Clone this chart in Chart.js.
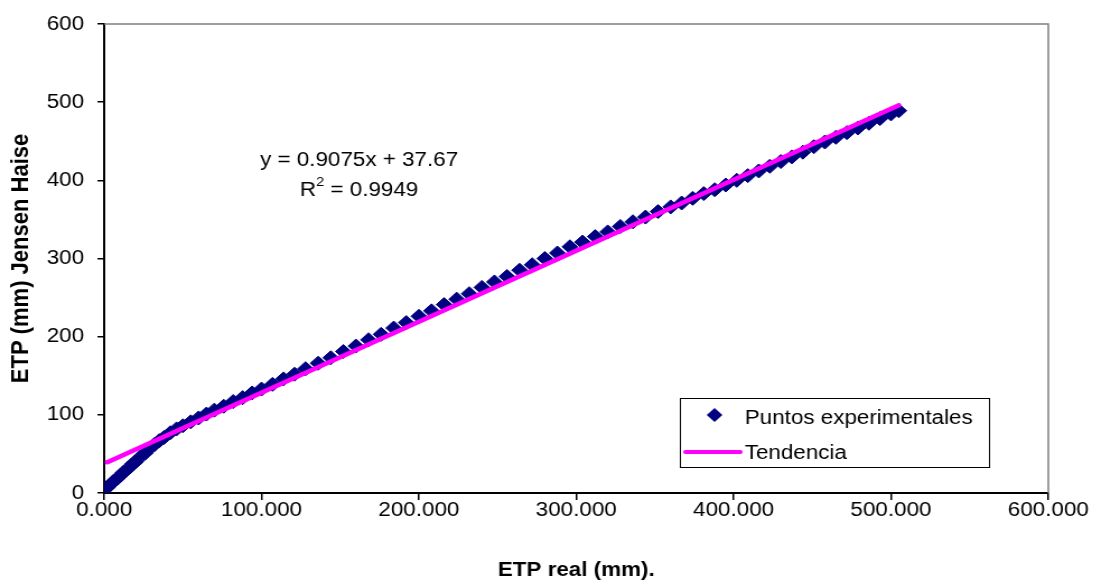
<!DOCTYPE html>
<html>
<head>
<meta charset="utf-8">
<script src="https://cdn.jsdelivr.net/npm/chart.js@4.4.1/dist/chart.umd.min.js"></script>
<style>
  html, body { margin: 0; padding: 0; background: #fff; }
  #wrap { width: 1094px; height: 582px; overflow: hidden; }
  /* the sheet was exported with wide glyphs, so the canvas is stretched sideways */
  #chart { transform: scaleX(1.12); transform-origin: 0 0; }
</style>
</head>
<body>
<div id="wrap"><canvas id="chart" width="977" height="582"></canvas></div>
<script>
// ETP real (mm) vs ETP Jensen-Haise (mm), accumulated
const etpReal = [
  2, 4, 6, 8, 10, 12, 14, 16, 18, 20, 23, 26, 29, 32, 35, 38, 42, 46, 50, 55,
  60, 65, 70, 76, 82, 88, 94, 100, 107, 114, 121, 128, 136, 144, 152, 160, 168, 176, 184, 192,
  200, 208, 216, 224, 232, 240, 248, 256, 264, 272, 280, 288, 296, 304, 312, 320, 328, 336, 344, 352,
  360, 367, 374, 381, 388, 395, 402, 409, 416, 423, 430, 437, 444, 451, 458, 465, 472, 479, 486, 493,
  500, 505
];
const etpJensen = [
  7, 11, 15, 18, 22, 26, 29, 33, 37, 40, 46, 51, 57, 62, 67, 71, 77, 82, 86, 91,
  96, 101, 106, 111, 117, 122, 128, 133, 139, 146, 152, 159, 166, 173, 181, 188, 196, 203, 211, 218,
  226, 233, 241, 248, 255, 263, 270, 277, 285, 292, 300, 307, 315, 321, 328, 334, 341, 347, 353, 360,
  366, 371, 377, 383, 388, 394, 400, 406, 412, 418, 424, 430, 436, 443, 449, 455, 461, 467, 473, 479,
  485, 489
];

// linear fit reported on the sheet
const trendSlope = 0.9075;
const trendIntercept = 37.67;
const trendR2 = 0.9949;

const xTickValues = [0, 100, 200, 300, 400, 500, 600];
const xTickLabels = ['0.000', '100.000', '200.000', '300.000', '400.000', '500.000', '600.000'];
const yTickValues = [0, 100, 200, 300, 400, 500, 600];

const seriesNames = ['Puntos experimentales', 'Tendencia'];

const NAVY = '#000080';
const MAGENTA = '#FF00FF';
const FONT = 'Liberation Sans, Arial, sans-serif';

const points = etpReal.map((x, i) => ({ x: x, y: etpJensen[i] }));
const xMin = Math.min(...etpReal);
const xMax = Math.max(...etpReal);
const trendPoints = [
  { x: xMin, y: trendSlope * xMin + trendIntercept },
  { x: xMax, y: trendSlope * xMax + trendIntercept }
];

const whiteBg = {
  id: 'whiteBg',
  beforeDraw(chart) {
    const ctx = chart.ctx;
    ctx.save();
    ctx.fillStyle = '#fff';
    ctx.fillRect(0, 0, chart.width, chart.height);
    ctx.restore();
  }
};

// grey plot-area frame on top and right
const plotFrame = {
  id: 'plotFrame',
  beforeDatasetsDraw(chart) {
    const { ctx, chartArea: a } = chart;
    ctx.save();
    ctx.strokeStyle = '#808080';
    ctx.lineWidth = 1.5;
    ctx.beginPath();
    ctx.moveTo(a.left, a.top);
    ctx.lineTo(a.right, a.top);
    ctx.lineTo(a.right, a.bottom);
    ctx.stroke();
    ctx.restore();
  }
};

const fitLabel = {
  id: 'fitLabel',
  afterDraw(chart) {
    const { ctx, scales } = chart;
    const cx = scales.x.getPixelForValue(162);
    const y1 = scales.y.getPixelForValue(426);
    const y2 = scales.y.getPixelForValue(387);
    ctx.save();
    ctx.fillStyle = '#000';
    ctx.textBaseline = 'middle';
    ctx.font = '20px ' + FONT;
    ctx.textAlign = 'center';
    ctx.fillText('y = ' + trendSlope + 'x + ' + trendIntercept, cx, y1);

    const head = 'R';
    const tail = ' = ' + trendR2;
    ctx.font = '20px ' + FONT;
    const wHead = ctx.measureText(head).width;
    const wTail = ctx.measureText(tail).width;
    ctx.font = '13px ' + FONT;
    const wSup = ctx.measureText('2').width;
    const start = cx - (wHead + wSup + wTail) / 2;
    ctx.textAlign = 'left';
    ctx.font = '20px ' + FONT;
    ctx.fillText(head, start, y2);
    ctx.fillText(tail, start + wHead + wSup, y2);
    ctx.font = '13px ' + FONT;
    ctx.fillText('2', start + wHead, y2 - 8);
    ctx.restore();
  }
};

// boxed legend sitting in the lower right of the plot
const boxLegend = {
  id: 'boxLegend',
  afterDraw(chart) {
    const { ctx, chartArea: a } = chart;
    const right = a.right - 53;
    const bottom = a.bottom - 26;
    const w = 276, h = 69;
    const left = right - w, top = bottom - h;
    ctx.save();
    ctx.fillStyle = '#fff';
    ctx.fillRect(left, top, w, h);
    ctx.strokeStyle = '#000';
    ctx.lineWidth = 1;
    ctx.strokeRect(left + 0.5, top + 0.5, w, h);

    // diamond marker
    const dx = left + 31, dy = top + 17;
    ctx.fillStyle = NAVY;
    ctx.beginPath();
    ctx.moveTo(dx, dy - 7);
    ctx.lineTo(dx + 7, dy);
    ctx.lineTo(dx, dy + 7);
    ctx.lineTo(dx - 7, dy);
    ctx.closePath();
    ctx.fill();

    // line sample
    ctx.strokeStyle = MAGENTA;
    ctx.lineWidth = 4;
    ctx.lineCap = 'round';
    ctx.beginPath();
    ctx.moveTo(left + 5, top + 54);
    ctx.lineTo(left + 54, top + 54);
    ctx.stroke();

    ctx.fillStyle = '#000';
    ctx.font = '20px ' + FONT;
    ctx.textBaseline = 'middle';
    ctx.textAlign = 'left';
    ctx.fillText(seriesNames[0], left + 58, top + 20);
    ctx.fillText(seriesNames[1], left + 58, top + 55);
    ctx.restore();
  }
};

new Chart(document.getElementById('chart'), {
  type: 'scatter',
  data: {
    datasets: [
      {
        label: seriesNames[1],
        type: 'line',
        data: trendPoints,
        borderColor: MAGENTA,
        borderWidth: 4.5,
        borderCapStyle: 'round',
        pointRadius: 0,
        fill: false,
        order: 0
      },
      {
        label: seriesNames[0],
        data: points,
        pointStyle: 'rectRot',
        pointRadius: 7,
        pointBackgroundColor: NAVY,
        pointBorderColor: NAVY,
        pointBorderWidth: 1,
        order: 1
      }
    ]
  },
  options: {
    responsive: false,
    animation: false,
    devicePixelRatio: 1,
    layout: { padding: { top: 20, right: 41, left: 0, bottom: 0 } },
    plugins: {
      legend: { display: false },
      tooltip: { enabled: false }
    },
    scales: {
      x: {
        type: 'linear',
        min: 0,
        max: 600,
        afterBuildTicks(scale) {
          scale.ticks = xTickValues.map(v => ({ value: v }));
        },
        afterFit(scale) { scale.height = 89; },
        ticks: {
          color: '#000',
          font: { family: FONT, size: 20 },
          padding: -2,
          maxRotation: 0,
          callback: (v) => xTickLabels[xTickValues.indexOf(v)]
        },
        grid: { drawOnChartArea: false, drawTicks: true, tickLength: 7, color: '#000', lineWidth: 1.5 },
        border: { color: '#000', width: 2 },
        title: {
          display: true,
          text: 'ETP real (mm).',
          color: '#000',
          font: { family: FONT, size: 20, weight: 'bold' },
          padding: { top: 0, bottom: 0 }
        }
      },
      y: {
        type: 'linear',
        min: 0,
        max: 600,
        afterBuildTicks(scale) {
          scale.ticks = yTickValues.map(v => ({ value: v }));
        },
        afterFit(scale) { scale.width = 93; },
        ticks: {
          color: '#000',
          font: { family: FONT, size: 20 },
          padding: 12
        },
        grid: { drawOnChartArea: false, drawTicks: true, tickLength: 6, color: '#000', lineWidth: 1.5 },
        border: { color: '#000', width: 2 },
        title: {
          display: true,
          text: 'ETP (mm) Jensen Haise',
          color: '#000',
          font: { family: FONT, size: 22, weight: 'bold' },
          padding: { top: 6, bottom: 0 }
        }
      }
    }
  },
  plugins: [whiteBg, plotFrame, fitLabel, boxLegend]
});
</script>
</body>
</html>
